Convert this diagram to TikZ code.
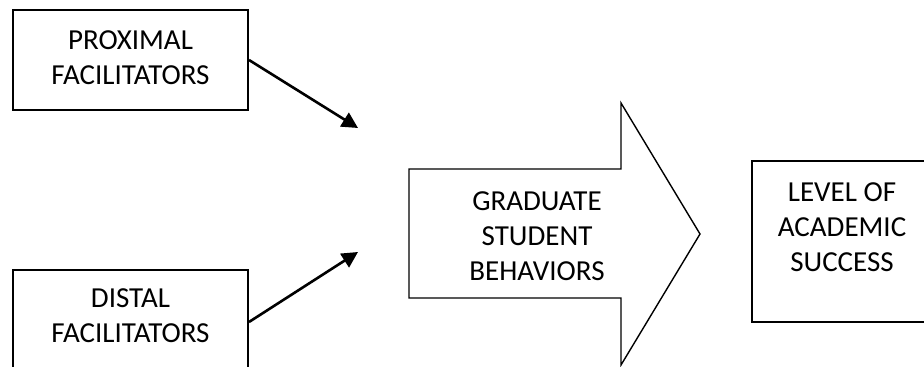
\documentclass[tikz,border=0pt]{standalone}
\usepackage{fontspec}
\setmainfont{Carlito}
\usetikzlibrary{arrows.meta}
\begin{document}
\begin{tikzpicture}[x=0.5pt,y=-0.5pt,
  box/.style={draw=black,line width=1pt,rectangle,inner sep=0pt},
  lbl/.style={align=center,font=\fontsize{14.5}{17.5}\selectfont,inner sep=0pt},
  conn/.style={draw=black,line width=1.3pt,-{Triangle[length=8pt,width=8pt]}}]
\useasboundingbox (0,0) rectangle (924,367);
\clip (0,0) rectangle (924,367);
\node[box,minimum width=117.5pt,minimum height=50pt] (prox) at (130.5,60) {};
\node[lbl] (proxt) at (130.5,58) {PROXIMAL\\FACILITATORS};
\node[box,minimum width=117.5pt,minimum height=52pt] (dist) at (130.5,322) {};
\node[lbl] (distt) at (130.5,316) {DISTAL\\FACILITATORS};
\coordinate (tipA) at (358,128);
\coordinate (tipB) at (358,252);
\draw[conn] (prox.east) -- (tipA);
\draw[conn] (dist.east) -- (tipB);
\draw[black,line width=0.7pt,line join=miter] (409,169) -- (621,169) -- (621,103) -- (700,234) -- (621,365) -- (621,298) -- (409,298) -- cycle;
\node[lbl] (grad) at (537,236) {GRADUATE\\STUDENT\\BEHAVIORS};
\node[box,minimum width=100pt,minimum height=80.5pt] (succ) at (852,241.5) {};
\node[lbl] (succt) at (842,227) {LEVEL OF\\ACADEMIC\\SUCCESS};
\end{tikzpicture}
\end{document}
